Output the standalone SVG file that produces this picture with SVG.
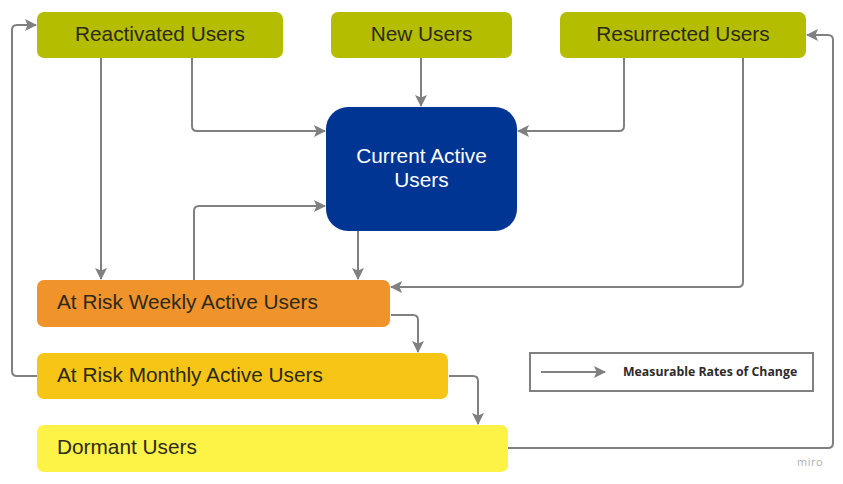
<svg xmlns="http://www.w3.org/2000/svg" width="843" height="484" viewBox="0 0 843 484">
<style>
.lbl{font-family:"Liberation Sans",Arial,sans-serif;font-size:20.8px;fill:#2b2a1c}
.ctr{text-anchor:middle}
.con{fill:none;stroke:#808080;stroke-width:2}
</style>
<defs>
<marker id="ah" markerUnits="userSpaceOnUse" markerWidth="12" markerHeight="12" viewBox="0 0 12 12" refX="11" refY="6" orient="auto">
<path d="M0,0 L12,6 L0,12 L2.5,6 z" fill="#808080"/>
</marker>
</defs>
<rect width="843" height="484" fill="#ffffff"/>
<g id="connectors">
<path class="con" d="M101,58 V279" marker-end="url(#ah)"/>
<path class="con" d="M192,58 V126 Q192,131 197,131 H325" marker-end="url(#ah)"/>
<path class="con" d="M421,58 V106" marker-end="url(#ah)"/>
<path class="con" d="M624,58 V126 Q624,131 619,131 H518" marker-end="url(#ah)"/>
<path class="con" d="M743,58 V282 Q743,287 738,287 H391" marker-end="url(#ah)"/>
<path class="con" d="M358,231 V279" marker-end="url(#ah)"/>
<path class="con" d="M194,280 V211 Q194,206 199,206 H325" marker-end="url(#ah)"/>
<path class="con" d="M391,315 H413 Q418,315 418,320 V352" marker-end="url(#ah)"/>
<path class="con" d="M449,376 H473 Q478,376 478,381 V424" marker-end="url(#ah)"/>
<path class="con" d="M37,376 H17 Q12,376 12,371 V30 Q12,25 17,25 H36" marker-end="url(#ah)"/>
<path class="con" d="M508,448 H828 Q833,448 833,443 V40 Q833,35 828,35 H807" marker-end="url(#ah)"/>
</g>
<g id="reactivated">
<rect x="37" y="12" width="246" height="46" rx="7" fill="#b5bd00"/>
<text class="lbl ctr" x="160" y="41">Reactivated Users</text>
</g>
<g id="new">
<rect x="331" y="12" width="181" height="46" rx="7" fill="#b5bd00"/>
<text class="lbl ctr" x="421.5" y="41">New Users</text>
</g>
<g id="resurrected">
<rect x="560" y="12" width="246" height="46" rx="7" fill="#b5bd00"/>
<text class="lbl ctr" x="683" y="41">Resurrected Users</text>
</g>
<g id="current">
<rect x="326" y="107" width="191" height="124" rx="22" fill="#003594"/>
<text class="lbl ctr" x="421.5" y="163" style="fill:#ffffff;font-size:20.8px">Current Active</text>
<text class="lbl ctr" x="421.5" y="187" style="fill:#ffffff;font-size:20.8px">Users</text>
</g>
<g id="weekly">
<rect x="37" y="280" width="353" height="47" rx="7" fill="#f0932b"/>
<text class="lbl" x="57" y="309">At Risk Weekly Active Users</text>
</g>
<g id="monthly">
<rect x="37" y="353" width="411" height="46" rx="7" fill="#f7c515"/>
<text class="lbl" x="57" y="382">At Risk Monthly Active Users</text>
</g>
<g id="dormant">
<rect x="37" y="425" width="471" height="47" rx="7" fill="#fdf246"/>
<text class="lbl" x="57" y="454">Dormant Users</text>
</g>
<g id="legend">
<rect x="530" y="353" width="283" height="38" fill="#ffffff" stroke="#808080" stroke-width="2"/>
<path class="con" d="M541,372 H605" marker-end="url(#ah)"/>
<text x="623" y="376" style="font-family:'Open Sans',sans-serif;font-weight:bold;font-size:12.3px;fill:#2b2b2b">Measurable Rates of Change</text>
</g>
<text x="797" y="466" style="font-family:'Open Sans',sans-serif;font-size:11px;fill:#b0b0b0;letter-spacing:0.5px">miro</text>
</svg>
